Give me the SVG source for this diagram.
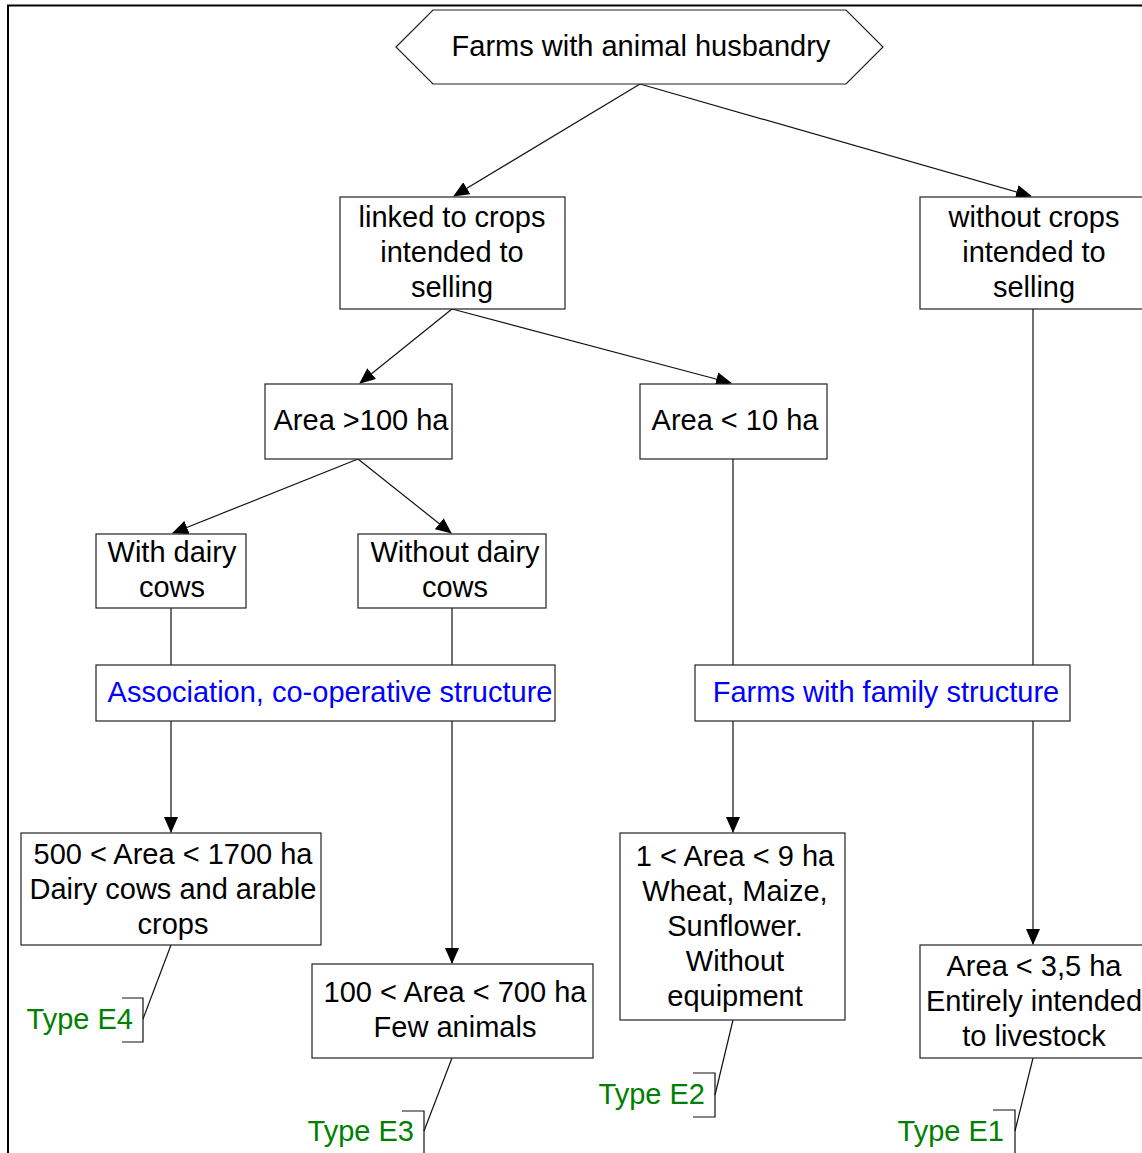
<svg xmlns="http://www.w3.org/2000/svg" width="1142" height="1153" viewBox="0 0 1142 1153">
<style>
.box{fill:#fff;stroke:#222;stroke-width:1.2}
.t{font-family:"Liberation Sans",Arial,sans-serif;font-size:29px;fill:#000;text-anchor:middle}
.b{fill:#0000ff}
.g{font-family:"Liberation Sans",Arial,sans-serif;font-size:29px;fill:#008000;text-anchor:end}
.c{stroke:#111;stroke-width:1.2;fill:none}
.a{marker-end:url(#arr)}
</style>
<defs>
<marker id="arr" markerWidth="16" markerHeight="14" refX="15" refY="7" orient="auto" markerUnits="userSpaceOnUse">
<path d="M0,0 L16,7 L0,14 Z" fill="#000"/>
</marker>
</defs>
<rect width="1142" height="1153" fill="#fff"/>
<g id="frame">
<path d="M7,5.5 H1142 M8,5 V1153" stroke="#000" stroke-width="2" fill="none"/>
</g>
<g id="connectors">
<path class="c a" d="M640,84 L454,196"/>
<path class="c a" d="M640,84 L1031,196"/>
<path class="c a" d="M452,309 L360,383"/>
<path class="c a" d="M452,309 L731,383"/>
<path class="c a" d="M358,459 L173,533"/>
<path class="c a" d="M358,459 L451,533"/>
<path class="c" d="M733,459 V665"/>
<path class="c" d="M1033,309 V665"/>
<path class="c" d="M171,608 V665"/>
<path class="c" d="M452,608 V665"/>
<path class="c a" d="M171,721 V832"/>
<path class="c a" d="M452,721 V963"/>
<path class="c a" d="M733,721 V832"/>
<path class="c a" d="M1033,721 V944"/>
<path class="c" d="M171,945 L143,1019"/>
<path class="c" d="M452,1058 L424,1131"/>
<path class="c" d="M733,1020 L715,1095"/>
<path class="c" d="M1033,1058 L1015,1131"/>
</g>
<g id="n_root">
<polygon class="box" points="396,47 433,10 846,10 883,47 846,84 433,84"/>
<text class="t" x="641" y="56">Farms with animal husbandry</text>
</g>
<g id="n_linked">
<rect class="box" x="340" y="197" width="225" height="112"/>
<text class="t" x="452" y="227">linked to crops</text>
<text class="t" x="452" y="262">intended to</text>
<text class="t" x="452" y="297">selling</text>
</g>
<g id="n_without">
<rect class="box" x="920" y="197" width="226" height="112"/>
<text class="t" x="1034" y="227">without crops</text>
<text class="t" x="1034" y="262">intended to</text>
<text class="t" x="1034" y="297">selling</text>
</g>
<g id="n_area100">
<rect class="box" x="265" y="384" width="187" height="75"/>
<text class="t" x="361" y="430">Area &gt;100 ha</text>
</g>
<g id="n_area10">
<rect class="box" x="640" y="384" width="187" height="75"/>
<text class="t" x="735" y="430">Area &lt; 10 ha</text>
</g>
<g id="n_withdairy">
<rect class="box" x="96" y="534" width="150" height="74"/>
<text class="t" x="172" y="562">With dairy</text>
<text class="t" x="172" y="597">cows</text>
</g>
<g id="n_withoutdairy">
<rect class="box" x="358" y="534" width="188" height="74"/>
<text class="t" x="455" y="562">Without dairy</text>
<text class="t" x="455" y="597">cows</text>
</g>
<g id="n_assoc">
<rect class="box" x="96" y="665" width="459" height="56"/>
<text class="t b" x="330" y="702">Association, co-operative structure</text>
</g>
<g id="n_family">
<rect class="box" x="695" y="665" width="375" height="56"/>
<text class="t b" x="886" y="702">Farms with family structure</text>
</g>
<g id="n_e4box">
<rect class="box" x="21" y="833" width="300" height="112"/>
<text class="t" x="173" y="864">500 &lt; Area &lt; 1700 ha</text>
<text class="t" x="173" y="899">Dairy cows and arable</text>
<text class="t" x="173" y="934">crops</text>
</g>
<g id="n_e3box">
<rect class="box" x="312" y="964" width="281" height="94"/>
<text class="t" x="455" y="1002">100 &lt; Area &lt; 700 ha</text>
<text class="t" x="455" y="1037">Few animals</text>
</g>
<g id="n_e2box">
<rect class="box" x="620" y="833" width="225" height="187"/>
<text class="t" x="735" y="866">1 &lt; Area &lt; 9 ha</text>
<text class="t" x="735" y="901">Wheat, Maize,</text>
<text class="t" x="735" y="936">Sunflower.</text>
<text class="t" x="735" y="971">Without</text>
<text class="t" x="735" y="1006">equipment</text>
</g>
<g id="n_e1box">
<rect class="box" x="920" y="945" width="226" height="113"/>
<text class="t" x="1034" y="976">Area &lt; 3,5 ha</text>
<text class="t" x="1034" y="1011">Entirely intended</text>
<text class="t" x="1034" y="1046">to livestock</text>
</g>
<g id="n_typeE4">
<path class="c" d="M122,998 H143 V1042 H122"/>
<text class="g" x="133" y="1029">Type E4</text>
</g>
<g id="n_typeE3">
<path class="c" d="M402,1111 H424 V1153"/>
<text class="g" x="414" y="1141">Type E3</text>
</g>
<g id="n_typeE2">
<path class="c" d="M693,1073 H715 V1117 H693"/>
<text class="g" x="705" y="1104">Type E2</text>
</g>
<g id="n_typeE1">
<path class="c" d="M993,1110 H1015 V1153"/>
<text class="g" x="1004" y="1141">Type E1</text>
</g>
</svg>
